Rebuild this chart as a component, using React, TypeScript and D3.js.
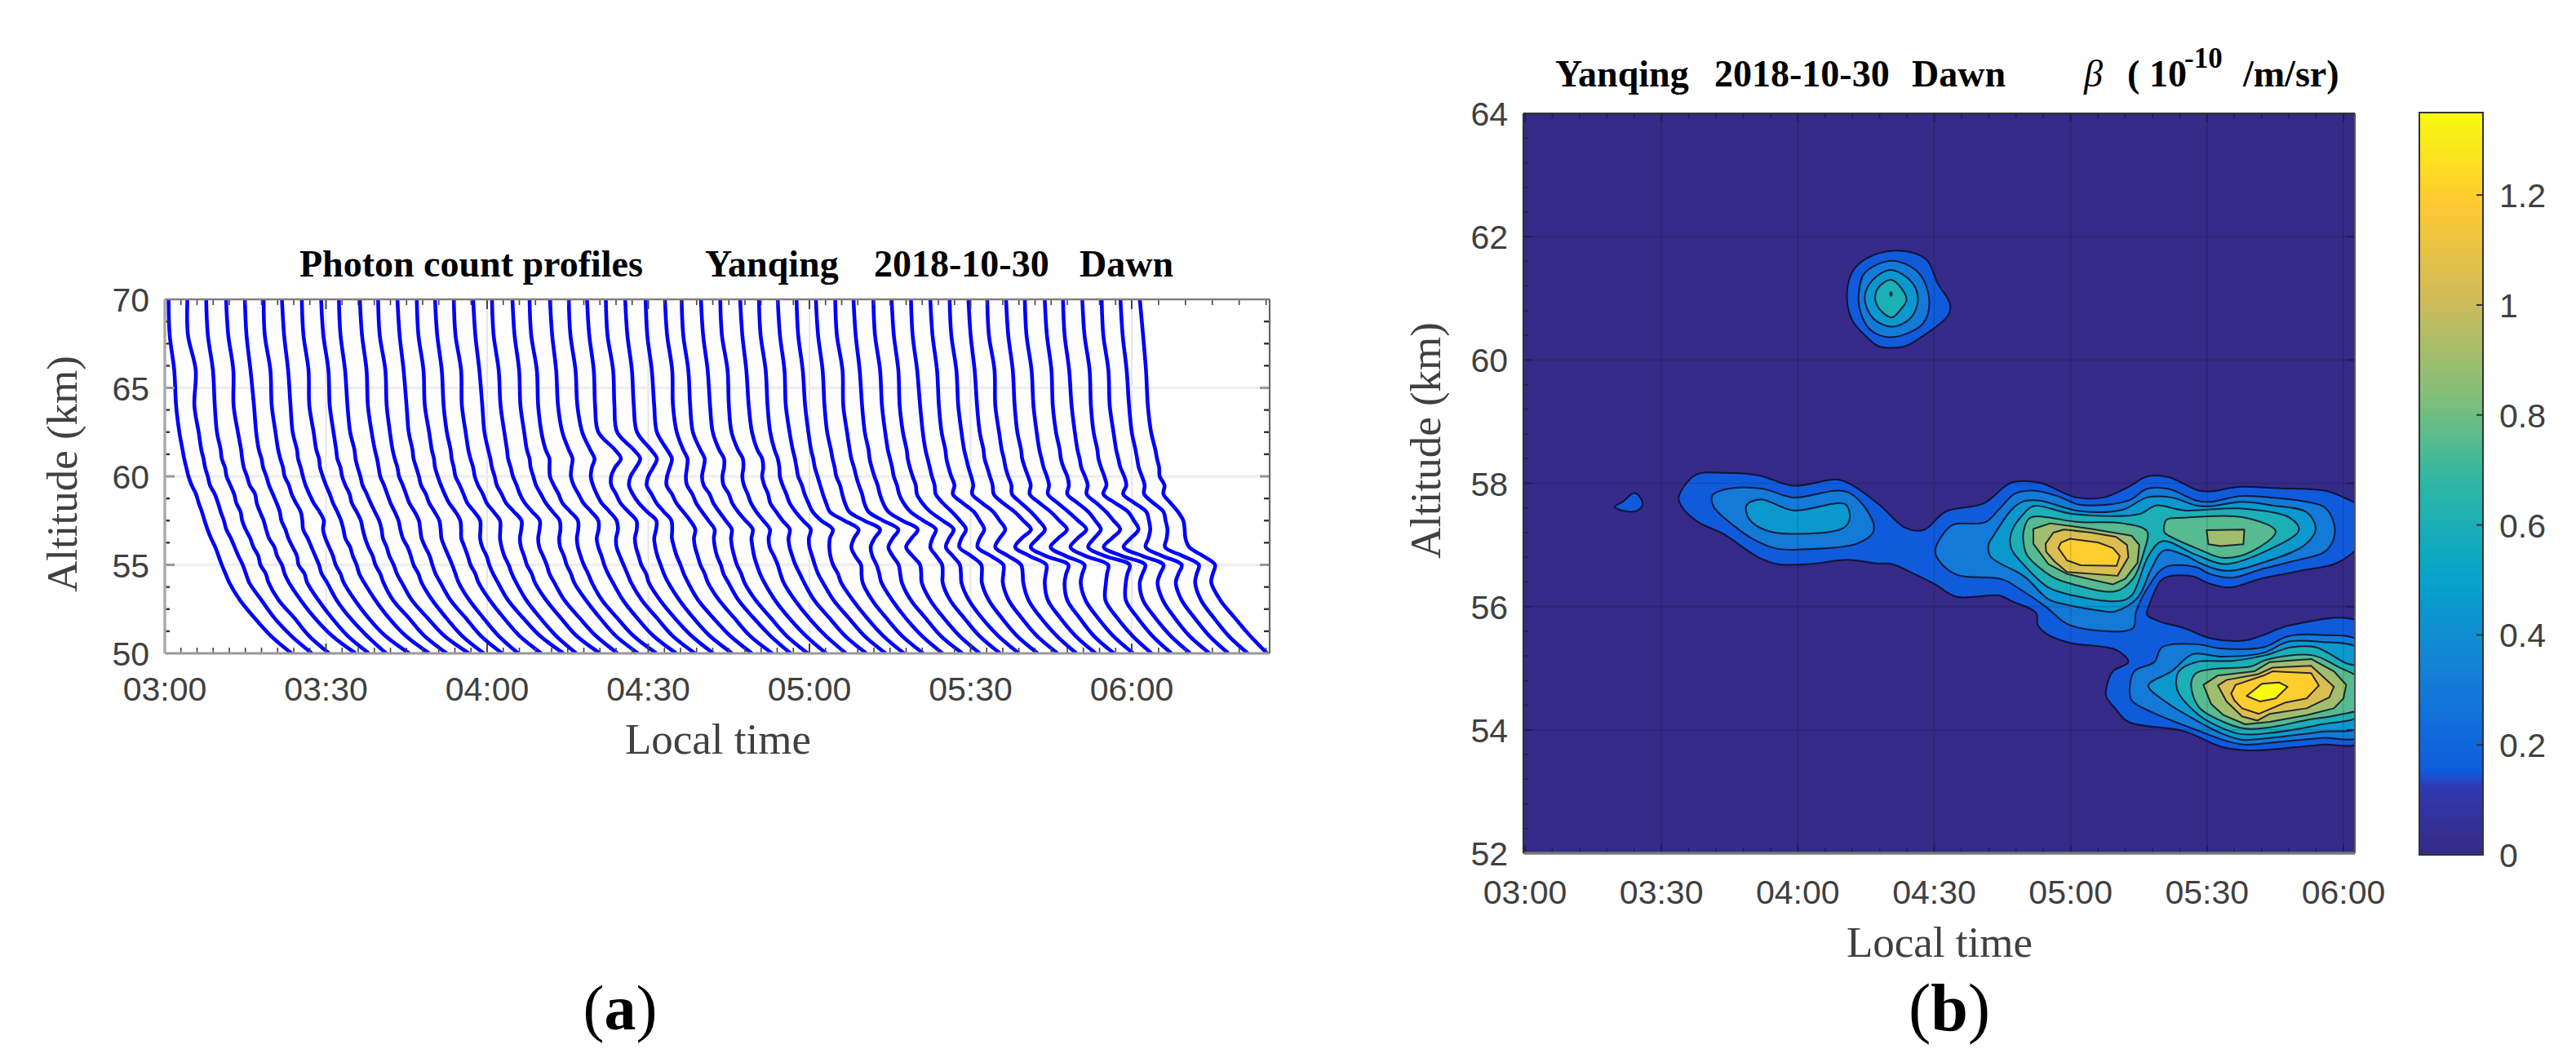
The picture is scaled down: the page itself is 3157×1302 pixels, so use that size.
import React from "react";
import * as d3 from "d3";

// ---------- panel (a): photon count profiles ----------
const timeTickMinutes = [0, 30, 60, 90, 120, 150, 180];
const timeTickLabels = ["03:00", "03:30", "04:00", "04:30", "05:00", "05:30", "06:00"];
const altTicksA = [50, 55, 60, 65, 70];
const profileAlts = [70, 68, 66, 64, 62.5, 61.5, 61, 60.5, 60, 59.5, 59, 58.5, 58, 57.5, 57, 56.5, 56, 55.5, 55, 54.5, 54, 53, 52, 51, 50];
// minutes after 03:00 at which each profile leaves the 70 km line
const profileStarts = [0.7, 4.2, 7.7, 11.4, 14.9, 18.4, 21.8, 25.5, 29.1, 32.4, 36.3, 39.7, 43.3, 46.9, 50.3, 53.8, 57.4, 60.9, 64.7, 67.9, 71.7, 75.2, 78.6, 82.1, 85.7, 89.5, 93.1, 96.2, 99.8, 103.4, 107.1, 110.6, 114.1, 117.6, 121.2, 124.8, 128.2, 131.9, 135.3, 138.9, 142.5, 146.1, 149.6, 153.1, 156.6, 160.1, 163.8, 167.2, 170.8, 174.4, 177.9, 181.5];
// shared fall-off with altitude (minutes of displacement), read from the first profile
const falloff = [0, .2, 1.05, 1.4, 2, 2.6, 2.9, 3.3, 3.7, 4.3, 5.1, 5.6, 6.2, 6.7, 7.25, 7.9, 8.7, 9.3, 9.9, 10.6, 11.3, 13.3, 16, 19, 23.2];
// per-profile departure from the fall-off at each altitude in profileAlts
const departures = [
  [0,0,0,0,0,0,0,0,0,0,0,0,0,0,0,0,0,0,0,0,0,0,0,0,-.3],
  [0,-.1,.5,-.1,.1,0,.1,0,.1,-.1,0,.1,0,.1,0,.2,.1,.2,.4,.3,.2,.5,.2,.3,0],
  [0,.1,.2,.2,0,.1,0,.2,.1,.2,.1,0,.2,0,.1,.3,.1,.4,.2,.5,.3,.2,.4,.1,-.3],
  [0,.2,.3,0,.2,.2,.1,0,.2,.1,.3,.1,.1,.3,.2,.1,.3,.2,.5,.3,.4,.6,.5,.7,.9],
  [0,.1,0,.3,.1,0,.2,.1,.3,.2,.1,.3,.3,.1,.3,.2,.2,.4,.1,.5,.3,.4,.2,.1,-.1],
  [0,0,.2,.1,.2,.1,.2,.3,.2,.4,.1,.4,.7,.5,.1,.3,.2,.3,.4,.2,.5,.3,.1,.2,-.4],
  [0,.2,.1,.2,0,.2,.1,.2,.2,.1,0,.3,.8,1.1,.4,.2,.1,.2,.1,.3,.2,.3,.1,.2,.5],
  [0,.1,.2,0,.2,.1,.3,.1,.2,.2,.1,.2,.4,.6,.5,.2,.3,.2,.3,.1,.3,.4,.2,.3,.5],
  [0,.2,.3,.2,.3,.2,.1,.3,.2,.2,.2,.1,.4,.7,.5,.3,.1,.3,.2,.4,.3,.1,.3,.2,.2],
  [0,.1,.1,.2,.1,.3,.2,.2,.3,.1,.1,.3,.5,.8,.7,.3,.2,.1,.3,.2,.4,.3,.5,.6,1],
  [0,.2,.2,.1,.2,.2,.3,.2,.1,.2,0,.1,.3,.5,.3,.1,.2,.2,.1,.3,.2,.2,.1,0,-.1],
  [0,.1,.3,.2,.2,.1,.2,.3,.2,.3,.1,.2,.6,.9,.6,.2,.1,.3,.2,.1,.3,.2,.3,.1,-.1],
  [0,.2,.1,.3,.1,.2,.1,.2,.3,.1,.2,.3,.7,1.1,.8,.3,.1,.2,.3,.2,.1,.1,0,-.2,-.7],
  [0,.1,.2,.1,.3,.2,.3,.1,.2,.2,.1,.4,1,1.4,1,.4,.2,.2,.1,.3,.2,.3,.2,.1,0],
  [0,.2,.2,.2,.2,.3,.2,.2,.1,.3,.2,.4,1.1,1.7,1.2,.5,.1,.3,.2,.2,.4,.3,.4,.5,.7],
  [0,.1,.3,.1,.2,.1,.2,.3,.2,.2,.3,.5,1.2,1.9,1.4,.7,.2,.1,.3,.2,.3,.2,.1,0,-.4],
  [0,.2,.1,.3,.1,.2,.3,.2,.3,.1,.2,.5,1.4,2.3,1.7,.8,.2,.2,.1,.3,.2,.3,.3,.2,.4],
  [0,.1,.2,.2,.3,.2,.1,.2,.2,.3,.1,.5,1.3,2.2,1.6,.7,.1,.2,.3,.1,.3,.2,.3,.3,.2],
  [0,.2,.2,.1,.2,.1,.3,.1,.2,.1,.2,.6,1.3,2.1,1.7,.8,.2,.3,.2,.3,.2,.4,.3,.2,.2],
  [0,.1,.3,.2,.2,.4,.8,.4,.1,.2,.3,.5,1.4,2.3,1.8,.9,.3,.2,.2,.3,.3,.2,.3,.3,.4],
  [0,.2,.1,.1,.3,.9,1.3,.7,.2,.1,.2,.6,1.5,2.3,1.8,.8,.3,.3,.2,.2,.4,.3,.2,.2,.3],
  [0,.1,.2,.2,.5,1.4,1.9,1,.4,.2,.1,.5,1.4,2.2,1.9,.9,.2,.2,.3,.3,.3,.3,.4,.3,.3],
  [0,.2,.2,.1,.1,2.6,3.4,1.9,.8,.2,.3,.6,1.5,2.5,2,1,.4,.3,.2,.4,.2,.3,.3,.4,.3],
  [0,.1,.3,.2,.1,2.6,3.5,2.3,.9,0,-.1,.5,1.5,2.7,2.1,1.1,.5,.3,.3,.2,.3,.4,.3,.3,.3],
  [0,.2,.2,.2,.2,2.2,3,1.9,.6,-.3,-.2,.2,1,1.9,1.5,.8,.4,.3,.4,.3,.4,.3,.4,.5,.4],
  [0,.1,.1,.2,.1,1.4,2,1.2,.3,-.4,-.2,.1,.8,1.6,2,1.1,.5,.4,.3,.4,.3,.4,.5,.4,.4],
  [0,.2,.3,.1,.2,.8,1.3,.8,.2,-.2,0,.2,.7,1.4,2,1.2,.6,.4,.5,.3,.5,.4,.5,.6,.2],
  [0,.1,.2,.2,.1,.9,1.4,.8,.1,-.2,.1,.3,.8,1.5,2.1,1.3,.7,.5,.4,.5,.4,.5,.6,.5,.3],
  [0,.2,.2,.3,.2,.8,1.4,1,.3,-.1,.1,.2,.7,1.6,2.4,1.5,.9,.6,.5,.4,.5,.5,.4,.5,.1],
  [0,.1,.3,.2,.1,.7,1.3,1,.4,.1,0,.1,.5,1.3,2,1.1,.5,.7,.8,.6,.5,.6,.5,.6,.2],
  [0,.2,.1,.2,.2,.6,1.2,1,.4,.2,.1,0,.5,1.2,2,1.1,.5,.4,.4,.5,.6,.5,.6,.5,.3],
  [0,.1,.2,.2,.1,.3,.6,.5,.2,.1,0,.1,.6,1.5,2.4,1.4,.7,.6,.5,.4,.6,.6,.7,.6,.4],
  [0,.2,.2,.1,.2,.2,.3,.2,.1,.2,-.1,.1,.3,1.4,3,1.8,.9,.5,.4,.6,.5,.7,.6,.6,.3],
  [0,.1,.1,.2,.2,.1,.2,.1,.2,.1,-.2,-.1,0,2.2,4.3,2.8,1.5,1.6,2.1,1.5,1,.8,.7,.6,.4],
  [0,.2,.2,.2,.1,.2,.2,.2,.1,.2,-.2,-.2,0,2.3,4.7,3,1.5,1.2,1.4,1.2,.9,.9,.7,.7,.4],
  [0,.1,.3,.1,.2,.1,.1,.2,.2,.1,-.1,-.2,0,2.2,4.5,2.8,1.2,1.4,1.9,1.5,1.1,.8,.8,.6,.5],
  [0,.2,.1,.2,.1,.2,.1,.1,.2,.2,-.2,-.1,.3,2.4,4.7,2.9,1.1,1.7,2.5,2,1.4,1,.8,.7,.3],
  [0,.1,.2,.2,.2,.1,.2,.2,.1,.1,-.3,0,.7,2.6,4.4,3.1,1.9,2.4,2.9,2.3,1.6,1,.9,.7,.4],
  [0,.2,.2,.1,.1,.2,.1,.1,.2,.2,-.4,.1,1,2.8,4.3,2.8,1.4,2.1,2.8,2.3,1.7,1.1,.8,.8,.5],
  [0,.1,.1,.3,.2,.1,.2,.2,.2,.1,-.5,.3,1.4,2.4,3,1.5,.3,1.9,3.2,2.6,1.9,1.2,.9,.7,.4],
  [0,.2,.2,.2,.1,.2,.1,.1,.2,.2,-.9,.4,1.9,2.5,2.8,1.3,.1,2,3.7,3,2.2,1.3,1,.8,.5],
  [0,.1,.2,.2,.2,.1,.2,.2,.3,.1,-.9,.4,1.9,2.6,3.1,1.4,-.2,1.6,3.4,3,2.4,1.4,1,.9,.4],
  [0,.2,.1,.2,.1,.2,.1,.2,.3,.2,-.4,.8,2.4,3.5,4.4,2,0,2.1,4.6,3.8,2.9,1.5,1.1,.9,.5],
  [0,.1,.3,.1,.2,.1,.2,.1,.2,.2,-.5,.7,1.9,2.9,3.5,1.5,-.6,1.6,5.2,4.1,3.1,1.6,1.2,.8,.4],
  [0,.2,.2,.2,.1,.2,.1,.2,.4,.3,-.7,.6,2.1,3.2,4.1,1.8,-.4,1.8,4.7,3.6,2.6,1.5,1.1,.9,.5],
  [0,.1,.2,.2,.2,.1,.2,.2,.4,.2,-.8,.5,1.9,3.2,4.2,1.9,-.2,2,5.6,4.7,3.8,1.7,1.2,1,.4],
  [0,.2,.2,.1,.1,.2,.1,.2,.5,.2,-.9,.5,1.9,2.7,3.2,1.3,-.6,1.9,5.9,4.8,3.8,1.8,1.3,1,.4],
  [0,.1,.1,.2,.2,.1,.2,.1,.4,.3,-.7,.6,1.8,2.7,3.4,1.2,-1.1,1.7,5.4,4.2,3,1.6,1.2,1,.5],
  [0,.2,.3,.2,.1,.2,.1,.2,.4,.2,-1.2,.5,2.3,2.9,3.2,1.1,-1,1.9,5.2,3.9,2.7,1.7,1.2,.9,.5],
  [0,.1,.2,.1,.2,.1,.2,.2,.5,.3,-1.1,.5,2.1,2.1,1.8,.8,-.5,2,5,3.7,2.5,1.6,1.3,1,.4],
  [0,.2,.1,.2,.1,.2,.2,.1,.3,.2,-.7,.5,1.8,1.7,1.5,.7,-.4,2.3,4.7,3.6,2.6,1.7,1.4,1.1,.5],
  [0,.4,.1,.1,.1,.3,.3,.3,0,.3,-.7,.1,.9,1.4,1.1,.6,.5,2.5,4.1,3,2,1.7,1.7,1.5,.5],
];
const minorTimeA = [3,6,9,12,15,18,21,24,27,33,36,39,42,45,48,51,54,57,63,66,69,72,75,78,81,84,87,93,96,99,102,105,108,111,114,117,123,126,129,132,135,138,141,144,147,153,156,159,162,165,168,171,174,177,185,190,195,200,205];
const minorAltA = [51.25,52.5,53.75,56.25,57.5,58.75,61.25,62.5,63.75,66.25,67.5,68.75];

// ---------- panel (b): backscatter contours ----------
const altTicksB = [52, 54, 56, 58, 60, 62, 64];
const cbarTicks = [0, .2, .4, .6, .8, 1, 1.2];
const cbarLabels = ["0", "0.2", "0.4", "0.6", "0.8", "1", "1.2"];
const contourStep = 0.15;
const parulaPos = [0, .09, .112, .25, .375, .5, .625, .75, .875, 1];
const parulaHex = ["#352a87", "#2f3ab0", "#0f5cdd", "#1481d6", "#06a4ca", "#2eb7a4", "#87bf77", "#d1bb59", "#fec832", "#f9fb0e"];

// each region: contour level index, then [minutes after 03:00, altitude km] pairs
type Region = [number, number[][]];
const regionsOuter: Region[] = [
  [1, [[19.7,57.62],[21.5,57.7],[24,57.84],[25.5,57.75],[25.8,57.65],[24.5,57.55],[22,57.55],[20.5,57.58]]],
  [1, [[33.8,57.77],[37.4,58.13],[44.1,58.17],[51.3,58.13],[59,57.96],[68.8,58.06],[72.4,57.95],[78.1,57.64],[83.8,57.27],[87.9,57.25],[92.5,57.54],[100.8,57.67],[107,58.01],[113.1,58.01],[121.2,57.77],[127.3,57.77],[132.7,57.94],[136.8,58.11],[141.5,58.1],[148.2,57.88],[150.9,57.87],[157,57.94],[165.1,57.92],[175.9,57.88],[180,57.77],[184,57.59],[184,57.06],[178.6,56.71],[171.9,56.6],[161.7,56.45],[155,56.31],[150.3,56.38],[146.9,56.49],[141.5,56.49],[139.8,56.42],[137.4,56.05],[136.8,55.87],[139.5,55.76],[144.9,55.65],[151,55.48],[158.4,55.45],[162.4,55.54],[168.5,55.7],[184,55.72],[184,53.82],[175.2,53.76],[161.7,53.67],[158.4,53.67],[153,53.73],[144.9,53.98],[132.7,54.13],[130,54.33],[127.8,54.55],[128,54.73],[129.3,54.95],[132.7,55.1],[130,55.3],[119.9,55.41],[115.1,55.54],[112.8,55.7],[112.4,55.9],[107,56.09],[104.3,56.18],[94.9,56.16],[90.2,56.36],[84.8,56.56],[80.7,56.69],[77.3,56.7],[70.9,56.76],[62.6,56.69],[55.4,56.69],[51.3,56.8],[43.6,57.18],[37.9,57.38],[34.3,57.64]]],
  [1, [[70.8,61.03],[72,61.43],[75.2,61.65],[80.7,61.77],[85.2,61.74],[88.5,61.61],[90.7,61.25],[93.5,60.9],[93,60.72],[87.1,60.37],[83.4,60.22],[77.9,60.22],[75.2,60.37],[72,60.64]]],
  [2, [[73.4,61.08],[74.7,61.41],[80.7,61.61],[86.6,61.41],[88.9,60.97],[87.5,60.59],[80.7,60.37],[76.1,60.48],[73.8,60.77]]],
  [3, [[74.7,61.01],[76.5,61.3],[80.5,61.46],[85.2,61.25],[86.4,60.97],[84.8,60.68],[80.7,60.54],[76.5,60.68]]],
  [4, [[77,61.01],[77.9,61.19],[80.5,61.3],[83,61.14],[83.9,60.97],[82.5,60.81],[80.7,60.69],[77.9,60.83]]],
  [5, [[80.3,61.07],[80.5,61.1],[80.7,61.07],[80.5,61.04]]],
  [2, [[41.2,57.8],[44.6,57.91],[52.3,57.91],[59,57.77],[70.9,57.86],[76.5,57.38],[76.5,57.2],[72.9,57.02],[64.7,56.94],[55.4,56.94],[50.3,57.09],[45.6,57.33],[41.5,57.62]]],
  [3, [[48.7,57.64],[51.8,57.74],[59,57.56],[70.4,57.66],[71.4,57.42],[69.9,57.27],[58.5,57.18],[52.9,57.24],[49.3,57.42]]],
];
const regionsMiddle: Region[] = [
  [2, [[90.2,56.89],[92.2,57.2],[94.2,57.33],[101.3,57.37],[104.4,57.59],[107.7,57.83],[111.8,57.88],[117.2,57.79],[122.2,57.65],[132.7,57.72],[136.8,57.91],[141.5,57.91],[147.6,57.72],[150.9,57.7],[157,57.79],[163.8,57.77],[171.9,57.7],[175.9,57.61],[177.9,57.35],[177.9,57.11],[175.9,56.89],[168.5,56.73],[161.7,56.6],[155.7,56.47],[150.6,56.53],[147.6,56.64],[140.8,56.64],[137.4,56.36],[134.4,55.92],[133.7,55.65],[126.3,55.61],[119.2,55.72],[114.5,56],[109.1,56.27],[105,56.44],[95.2,56.51],[91.9,56.67]]],
  [3, [[102,57.02],[102.7,57.11],[107,57.57],[109.4,57.7],[113.1,57.72],[121.9,57.55],[131.4,57.57],[136.8,57.77],[142.2,57.77],[147.6,57.64],[150.9,57.63],[157.7,57.7],[164.4,57.64],[171.9,57.53],[173.9,57.26],[171.5,57],[163.8,56.75],[154.3,56.58],[148.9,56.69],[145.5,56.82],[140.5,56.91],[137.8,56.62],[134.7,56.14],[129.7,55.92],[126,55.94],[119.2,56.03],[115.1,56.12],[109.8,56.49],[102.3,56.82]]],
  [4, [[106.7,57.11],[107.4,57.28],[109.4,57.48],[111.8,57.63],[120.6,57.5],[135.1,57.5],[138.8,57.64],[144.9,57.56],[157.7,57.59],[168.2,57.44],[170.2,57.24],[163.8,56.93],[154,56.69],[147.6,56.84],[140.1,57.06],[137.1,56.82],[133.4,56.18],[130.7,56.09],[120.6,56.18],[115.1,56.31],[109.8,56.67],[107,56.93]]],
  [5, [[109.6,57.06],[109.7,57.24],[111.1,57.44],[121.9,57.37],[131.4,57.35],[136.8,57.22],[136.1,56.89],[133.7,56.45],[130,56.25],[120.6,56.36],[115.8,56.49],[110.4,56.84]]],
  [5, [[140.5,57.24],[141.1,57.41],[144.9,57.44],[157.7,57.45],[165.1,57.22],[159.7,56.89],[153.6,56.79],[148.2,56.93],[140.8,57.19]]],
  [6, [[111.8,57.02],[111.8,57.26],[115.5,57.35],[124.6,57.26],[133.4,57.15],[135.1,57],[134.7,56.71],[132,56.45],[129.3,56.36],[119.2,56.53],[115.1,56.69]]],
  [6, [[149.9,57.24],[158.2,57.25],[158,57.01],[153,56.98],[150.3,57.01]]],
  [7, [[114.5,57.02],[116.2,57.2],[118.5,57.25],[124.6,57.2],[130,57.13],[132.4,57],[132.7,56.8],[130.3,56.5],[119.2,56.56],[116.5,56.73],[114.6,56.89]]],
  [8, [[117.3,56.95],[117.9,57.04],[119.9,57.1],[126,57.04],[129.3,56.95],[130.8,56.82],[130.1,56.66],[122.2,56.67],[119.2,56.75]]],
];
const regionsLower: Region[] = [
  [2, [[133,54.68],[134,54.95],[138.4,55.1],[140.1,55.34],[147.6,55.39],[153,55.32],[162.4,55.34],[167.8,55.52],[175.2,55.54],[184,55.41],[184,53.91],[175.2,53.87],[165.1,53.8],[158.4,53.76],[154.3,53.82],[147.6,54],[138.1,54.28],[133.4,54.48]]],
  [3, [[137.1,54.72],[142.2,54.95],[146.9,55.23],[153,55.19],[162.4,55.25],[167.8,55.43],[174.6,55.43],[184,55.28],[184,54.07],[175.2,53.97],[163.8,53.87],[157.7,53.84],[153.6,53.93],[148.2,54.13],[140.8,54.46]]],
  [4, [[143.2,54.75],[143.8,54.95],[147.6,55.1],[155.7,55.12],[162.8,55.21],[168.5,55.34],[173.9,55.34],[180.6,55.08],[184,54.99],[184,54.26],[175.2,54.09],[163.8,53.95],[157.7,53.93],[153.6,54.02],[148.2,54.24],[143.8,54.59]]],
  [5, [[146.5,54.75],[147.6,54.92],[151.6,54.99],[159.7,55.03],[163.1,55.14],[173.2,55.21],[178.6,55.03],[184,54.79],[184,54.37],[178.6,54.24],[171.9,54.16],[163.8,54.04],[158.4,54.02],[153.6,54.13],[148.2,54.37]]],
  [6, [[149.2,54.73],[152.3,54.88],[160.4,54.95],[163.8,55.1],[172.9,55.15],[177.9,54.95],[180.6,54.73],[180,54.51],[177.9,54.35],[171.9,54.24],[163.8,54.13],[158.4,54.09],[153.6,54.24],[150.9,54.42]]],
  [7, [[152.4,54.72],[154.3,54.81],[161.1,54.9],[164.4,55.01],[172.9,55.04],[177.9,54.7],[176.9,54.53],[171.9,54.35],[163.8,54.26],[161.1,54.15],[157.7,54.22],[154.3,54.46]]],
  [8, [[155.3,54.59],[156.3,54.73],[162.4,54.88],[164.4,54.95],[172.9,54.92],[174.6,54.72],[171.9,54.51],[167.1,54.44],[161.4,54.26],[157.7,54.35],[156,54.48]]],
  [9, [[158.7,54.55],[162.1,54.75],[165.8,54.77],[167.7,54.7],[165.1,54.51],[161.7,54.46]]],
];

const SANS = "'Liberation Sans', Arial, sans-serif";
const SERIF = "'Liberation Serif', 'Times New Roman', serif";
const GREY = "#404040";

export default function App() {
  const xA = d3.scaleLinear([0, 180], [202, 1387]);
  const yA = d3.scaleLinear([50, 70], [801, 367]);
  const xAEnd = 1556;
  const xB = d3.scaleLinear([0, 180], [1869, 2872]);
  const yB = d3.scaleLinear([52, 64], [1046, 139]);
  const xBL = 1867, xBR = 2886;
  const cY = d3.scaleLinear([0, 1.35], [1048, 138]);
  const parula = d3.scaleLinear<string>().domain(parulaPos).range(parulaHex).interpolate(d3.interpolateRgb);
  const cBins = d3.range(0, 1.35, 0.005);

  const profileLine = d3.line<[number, number]>()
    .x((d) => xA(d[0]))
    .y((d) => yA(d[1]))
    .curve(d3.curveCatmullRom.alpha(0.5));
  const smoothRegion = d3.line<number[]>()
    .x((d) => xB(d[0]))
    .y((d) => yB(d[1]))
    .curve(d3.curveCatmullRomClosed.alpha(0.5));
  const sharpRegion = d3.line<number[]>()
    .x((d) => xB(d[0]))
    .y((d) => yB(d[1]))
    .curve(d3.curveLinearClosed);
  const regions = [...regionsOuter, ...regionsMiddle, ...regionsLower].slice().sort((a, b) => a[0] - b[0]);

  const aTop = yA(70), aBot = yA(50), bTop = yB(64), bBot = yB(52);

  return (
    <svg width={3157} height={1302} viewBox="0 0 3157 1302" style={{ position: "absolute", left: 0, top: 0, background: "#fff", display: "block" }}>
      <defs>
        <clipPath id="clipA"><rect x={202} y={aTop} width={xAEnd - 202} height={aBot - aTop} /></clipPath>
        <clipPath id="clipB"><rect x={xBL} y={bTop} width={xBR - xBL} height={bBot - bTop} /></clipPath>
      </defs>

      {/* ---- panel a ---- */}
      <g>
        {timeTickMinutes.slice(1).map((t) => (
          <line key={t} x1={xA(t)} x2={xA(t)} y1={aTop} y2={aBot} stroke="#e6e6e6" strokeWidth={2} />
        ))}
        {altTicksA.slice(1, 4).map((a) => (
          <line key={a} x1={202} x2={xAEnd} y1={yA(a)} y2={yA(a)} stroke="#eeeeee" strokeWidth={3.5} />
        ))}
        <g clipPath="url(#clipA)" fill="none" stroke="#0000ff" strokeWidth={4.6} strokeLinejoin="round">
          {departures.map((row, i) => (
            <path
              key={i}
              d={profileLine(row.map((dev, j) => [profileStarts[i] + falloff[j] + dev, profileAlts[j]] as [number, number])) as string}
            />
          ))}
        </g>
        {minorTimeA.map((t) => (
          <g key={t} stroke="#444" strokeWidth={1.6}>
            <line x1={xA(t)} x2={xA(t)} y1={aBot} y2={aBot - 7} />
            <line x1={xA(t)} x2={xA(t)} y1={aTop} y2={aTop + 7} />
          </g>
        ))}
        {timeTickMinutes.slice(1).map((t) => (
          <g key={t} stroke="#444" strokeWidth={2}>
            <line x1={xA(t)} x2={xA(t)} y1={aBot} y2={aBot - 12} />
            <line x1={xA(t)} x2={xA(t)} y1={aTop} y2={aTop + 12} />
          </g>
        ))}
        {minorAltA.map((a) => (
          <g key={a} stroke="#333" strokeWidth={2.4}>
            <line x1={202} x2={208} y1={yA(a)} y2={yA(a)} />
            <line x1={xAEnd} x2={xAEnd - 7} y1={yA(a)} y2={yA(a)} />
          </g>
        ))}
        {altTicksA.slice(1, 4).map((a) => (
          <g key={a} stroke="#999" strokeWidth={3}>
            <line x1={202} x2={214} y1={yA(a)} y2={yA(a)} />
            <line x1={xAEnd} x2={xAEnd - 12} y1={yA(a)} y2={yA(a)} />
          </g>
        ))}
        <line x1={202} x2={xAEnd} y1={aTop} y2={aTop} stroke="#808080" strokeWidth={2.5} />
        <line x1={202} x2={xAEnd} y1={aBot} y2={aBot} stroke="#999" strokeWidth={3} />
        <line x1={202} x2={202} y1={aTop} y2={aBot} stroke="#aaa" strokeWidth={3.5} />
        <line x1={xAEnd} x2={xAEnd} y1={aTop} y2={aBot} stroke="#666" strokeWidth={2.2} />
        {altTicksA.map((a) => (
          <text key={a} x={183} y={yA(a) + 15} textAnchor="end" fontFamily={SANS} fontSize={41} fill={GREY}>{a}</text>
        ))}
        {timeTickMinutes.map((t, i) => (
          <text key={t} x={xA(t)} y={859} textAnchor="middle" fontFamily={SANS} fontSize={41} fill={GREY}>{timeTickLabels[i]}</text>
        ))}
        <text x={880} y={924} textAnchor="middle" fontFamily={SERIF} fontSize={53} fill={GREY}>Local time</text>
        <text transform="translate(94,581) rotate(-90)" textAnchor="middle" fontFamily={SERIF} fontSize={53} fill={GREY}>Altitude (km)</text>
        <g fontFamily={SERIF} fontSize={46} fontWeight={700} fill="#000">
          <text x={367} y={339}>Photon count profiles</text>
          <text x={864} y={339}>Yanqing</text>
          <text x={1071} y={339}>2018-10-30</text>
          <text x={1323} y={339}>Dawn</text>
        </g>
        <text x={760} y={1262} textAnchor="middle" fontFamily={SERIF} fontSize={78} fill="#000">
          (<tspan fontWeight={700}>a</tspan>)
        </text>
      </g>

      {/* ---- panel b ---- */}
      <g>
        <rect x={xBL} y={bTop} width={xBR - xBL} height={bBot - bTop} fill={parula(0)} />
        <g clipPath="url(#clipB)">
          {regions.map(([level, pts], i) => (
            <path
              key={i}
              d={(level <= 5 ? smoothRegion(pts) : sharpRegion(pts)) as string}
              fill={parula((level * contourStep) / 1.35)}
              stroke="#0c0c22"
              strokeWidth={2}
              strokeOpacity={0.85}
              strokeLinejoin="round"
            />
          ))}
        </g>
        {timeTickMinutes.slice(1).map((t) => (
          <line key={t} x1={xB(t)} x2={xB(t)} y1={bTop} y2={bBot} stroke="#000" strokeOpacity={0.13} strokeWidth={1.6} />
        ))}
        {altTicksB.slice(1, 6).map((a) => (
          <line key={a} x1={xBL} x2={xBR} y1={yB(a)} y2={yB(a)} stroke="#000" strokeOpacity={0.13} strokeWidth={1.6} />
        ))}
        {d3.range(0, 183, 6).map((t) => (
          <g key={t} stroke="#1f1c55" strokeWidth={t % 30 === 0 ? 2 : 1.5}>
            <line x1={xB(t)} x2={xB(t)} y1={bBot} y2={bBot - (t % 30 === 0 ? 10 : 6)} />
            <line x1={xB(t)} x2={xB(t)} y1={bTop} y2={bTop + (t % 30 === 0 ? 10 : 6)} />
          </g>
        ))}
        {d3.range(0, 61).map((k) => {
          const a = 52 + k * 0.4;
          if (a > 64) return null;
          const major = k % 5 === 0;
          return (
            <g key={k} stroke="#1f1c55" strokeWidth={major ? 2 : 1.5}>
              <line x1={xBL} x2={xBL + (major ? 10 : 6)} y1={yB(a)} y2={yB(a)} />
              {major && <line x1={xBR} x2={xBR - 10} y1={yB(a)} y2={yB(a)} />}
            </g>
          );
        })}
        <line x1={xBL} x2={xBR} y1={bTop} y2={bTop} stroke="#333" strokeWidth={2.2} />
        <line x1={xBL} x2={xBR} y1={bBot} y2={bBot} stroke="#777" strokeWidth={3.5} />
        <line x1={xBL} x2={xBL} y1={bTop} y2={bBot} stroke="#333" strokeWidth={2.2} />
        <line x1={xBR} x2={xBR} y1={bTop} y2={bBot} stroke="#555" strokeWidth={2} />
        {altTicksB.map((a) => (
          <text key={a} x={1848} y={yB(a) + 15} textAnchor="end" fontFamily={SANS} fontSize={41} fill={GREY}>{a}</text>
        ))}
        {timeTickMinutes.map((t, i) => (
          <text key={t} x={xB(t)} y={1108} textAnchor="middle" fontFamily={SANS} fontSize={41} fill={GREY}>{timeTickLabels[i]}</text>
        ))}
        <text x={2377} y={1173} textAnchor="middle" fontFamily={SERIF} fontSize={53} fill={GREY}>Local time</text>
        <text transform="translate(1765,540) rotate(-90)" textAnchor="middle" fontFamily={SERIF} fontSize={53} fill={GREY}>Altitude (km)</text>
        <g fontFamily={SERIF} fontSize={46} fontWeight={700} fill="#000">
          <text x={1906} y={106}>Yanqing</text>
          <text x={2101} y={106}>2018-10-30</text>
          <text x={2343} y={106}>Dawn</text>
          <text x={2554} y={106} fontStyle="italic" fontWeight={400}>β</text>
          <text x={2607} y={106}>(</text>
          <text x={2634} y={106}>10</text>
          <text x={2677} y={83} fontSize={35}>-10</text>
          <text x={2749} y={106}>/m/sr)</text>
        </g>
        <text x={2389} y={1263} textAnchor="middle" fontFamily={SERIF} fontSize={82} fill="#000">
          (<tspan fontWeight={700}>b</tspan>)
        </text>

        {/* colour bar */}
        {cBins.map((v) => (
          <rect key={v} x={2965} width={78} y={cY(v + 0.005) - 0.5} height={Math.abs(cY(v) - cY(v + 0.005)) + 1} fill={parula(v / 1.35)} />
        ))}
        <rect x={2965} y={138} width={78} height={910} fill="none" stroke="#333" strokeWidth={2} />
        {cbarTicks.map((v, i) => (
          <g key={v}>
            <line x1={3043} x2={3035} y1={cY(v)} y2={cY(v)} stroke="#333" strokeWidth={2} />
            <text x={3063} y={cY(v) + 15} fontFamily={SANS} fontSize={41} fill={GREY}>{cbarLabels[i]}</text>
          </g>
        ))}
      </g>
    </svg>
  );
}
